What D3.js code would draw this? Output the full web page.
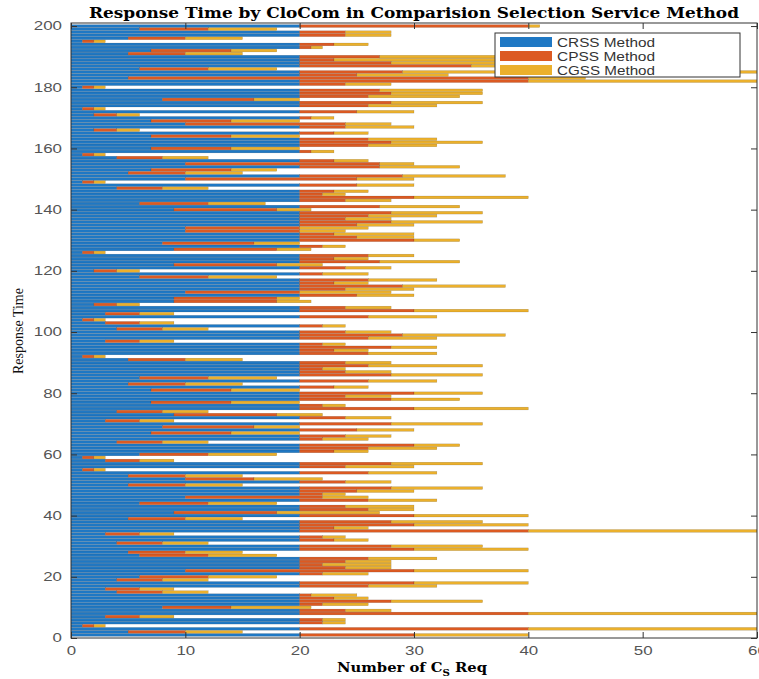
<!DOCTYPE html>
<html><head><meta charset="utf-8">
<script src="https://cdn.jsdelivr.net/npm/d3@7"></script>
<style>body{margin:0;background:#fff}svg{display:block}</style>
</head><body>
<svg id="c" width="759" height="679"></svg>
<script>
// Row index 1..200 (Response Time), stacked values per method
const crss = [20,5,20,1,20,20,3,20,20,8, 20,20,20,20,4,3,20,20,4,6, 20,10,20,20,20,20,6,5,20,20, 4,20,20,3,20,20,20,20,5,20,
  9,20,20,6,20,10,20,20,20,5, 20,10,5,20,1,20,20,3,1,6, 20,20,20,4,20,20,7,20,8,20, 3,20,9,4,20,20,7,20,20,20,
  7,20,5,20,6,20,20,20,20,20, 5,1,20,20,20,20,3,20,20,20, 4,20,3,1,20,3,20,20,2,9, 9,20,10,20,20,20,20,6,20,2,
  20,9,20,20,20,1,9,20,8,20, 20,20,10,10,20,20,20,20,20,9, 20,6,20,20,20,20,4,20,1,10, 20,5,7,20,10,20,4,1,20,7,
  20,20,20,7,20,2,20,10,7,20, 2,20,1,20,20,8,20,20,20,1, 20,20,5,20,20,6,20,20,20,20, 5,7,20,20,1,5,20,20,6,20];
const cpss = [10,5,20,1,2,2,3,20,4,6, 2,8,3,1,4,3,6,10,4,6, 2,20,4,2,4,6,6,5,10,8, 4,3,2,3,20,3,10,8,5,10,
  9,6,4,6,6,12,2,5,8,5, 4,6,5,6,1,4,8,3,1,6, 3,6,10,4,2,4,7,5,8,8, 3,4,9,4,10,2,7,8,4,10,
  7,3,5,6,6,8,4,2,6,4, 5,1,6,3,8,2,3,6,9,4, 4,2,3,1,6,3,10,4,2,9, 9,5,10,4,9,3,6,6,2,2,
  4,9,7,3,6,1,9,2,8,10, 5,3,10,10,5,8,4,6,8,9, 7,6,4,10,2,3,4,5,1,15, 9,5,7,7,17,3,4,1,1,7,
  6,8,6,7,3,2,4,14,7,1, 2,5,1,6,8,8,6,8,7,1, 4,20,35,5,9,6,15,8,3,7, 5,7,1,3,1,5,4,4,6,20];
const cgss = [10,5,20,1,2,2,3,20,4,7, 4,8,3,4,4,3,6,10,4,6, 4,10,4,6,4,6,6,5,10,8, 4,3,2,3,20,3,10,8,5,10,
  9,4,6,6,6,4,2,5,8,5, 4,6,5,6,1,6,8,3,1,6, 3,6,4,4,4,4,6,5,4,8, 3,4,4,4,10,2,6,6,4,6,
  6,3,5,6,6,8,4,2,10,4, 5,1,6,3,4,2,3,6,9,4, 4,2,3,1,6,3,10,4,2,3, 2,5,8,6,9,3,6,6,4,2,
  4,4,7,3,4,1,3,2,4,4, 5,7,4,6,5,8,4,6,8,3, 7,5,4,10,2,3,4,5,1,5, 9,5,4,7,3,3,4,1,2,6,
  6,8,6,6,3,2,6,4,6,2, 2,5,1,6,8,4,8,8,9,1, 4,25,5,8,35,6,4,12,17,13, 5,4,1,3,1,5,4,4,6,1];
const seriesNames = ["CRSS Method", "CPSS Method", "CGSS Method"];
const seriesColors = ["#1f78c4", "#dc5a22", "#ebb02c"];
const xTicks = [0,10,20,30,40,50,60];
const yTicks = [0,20,40,60,80,100,120,140,160,180,200];
const titleText = "Response Time by CloCom  in Comparision Selection Service Method";

const svg = d3.select("#c");
const L = 71, R = 757, T = 23, B = 638;
const x = d3.scaleLinear().domain([0,60]).range([L,R]);
const y = d3.scaleLinear().domain([0,201]).range([B,T]);

const rows = crss.map((v,i)=>({row:i+1, a:v, b:cpss[i], c:cgss[i]}));
const stack = d3.stack().keys(["a","b","c"])(rows);

svg.append("clipPath").attr("id","clip").append("rect")
  .attr("x",L).attr("y",T).attr("width",R-L).attr("height",B-T);

const g = svg.append("g").attr("clip-path","url(#clip)");
const bw = 0.9;
stack.forEach((s,k)=>{
  g.append("g").selectAll("rect").data(s).join("rect")
    .attr("x", d=>x(d[0]))
    .attr("width", d=>Math.max(0, x(d[1])-x(d[0])))
    .attr("y", d=>y(d.data.row + bw/2))
    .attr("height", d=>y(d.data.row - bw/2) - y(d.data.row + bw/2))
    .attr("fill", seriesColors[k])
    .attr("stroke", "rgba(0,0,0,0.28)")
    .attr("stroke-width", 0.4);
});

// Axes box
const axColor = "#333";
svg.append("rect").attr("x",L).attr("y",T).attr("width",R-L).attr("height",B-T)
  .attr("fill","none").attr("stroke",axColor).attr("stroke-width",1);

const tl = 6;
const xb = svg.append("g").attr("transform",`translate(0,${B})`)
  .call(d3.axisBottom(x).tickValues(xTicks).tickSizeInner(-tl).tickSizeOuter(0).tickPadding(8));
const xt = svg.append("g").attr("transform",`translate(0,${T})`)
  .call(d3.axisTop(x).tickValues(xTicks).tickSizeInner(-tl).tickSizeOuter(0).tickFormat(""));
const yl = svg.append("g").attr("transform",`translate(${L},0)`)
  .call(d3.axisLeft(y).tickValues(yTicks).tickSizeInner(-tl).tickSizeOuter(0).tickPadding(9));
const yr = svg.append("g").attr("transform",`translate(${R},0)`)
  .call(d3.axisRight(y).tickValues(yTicks).tickSizeInner(-tl).tickSizeOuter(0).tickFormat(""));
[xb,xt,yl,yr].forEach(a=>{
  a.select(".domain").remove();
  a.selectAll(".tick line").attr("stroke",axColor);
  a.selectAll("text").attr("font-family","'Liberation Sans', Arial, sans-serif")
    .attr("font-size",12).attr("fill","#555")
    .attr("lengthAdjust","spacingAndGlyphs")
    .attr("textLength", function(){ return this.textContent.length*9.4; });
});

// Title
svg.append("text").attr("x",(88+740)/2).attr("y",18).attr("text-anchor","middle")
  .attr("font-family","'DejaVu Serif', serif").attr("font-weight","bold").attr("font-size",14.5)
  .attr("textLength",650).attr("lengthAdjust","spacingAndGlyphs")
  .text(titleText);

// X label with subscript
const xl = svg.append("text").attr("x",412).attr("y",672).attr("text-anchor","middle")
  .attr("font-family","'DejaVu Serif', serif").attr("font-weight","bold").attr("font-size",13)
  .attr("textLength",150).attr("lengthAdjust","spacingAndGlyphs");
xl.append("tspan").text("Number of C");
xl.append("tspan").attr("dy",4).attr("font-size",9).text("S");
xl.append("tspan").attr("dy",-4).text(" Req");

// Y label
svg.append("text").attr("transform","translate(23,331) rotate(-90)").attr("text-anchor","middle")
  .attr("font-family","'Liberation Serif', 'Times New Roman', serif").attr("font-size",14)
  .attr("fill","#111").text("Response Time");

// Legend
const lg = svg.append("g");
lg.append("rect").attr("x",495).attr("y",33).attr("width",245).attr("height",44)
  .attr("fill","#fff").attr("stroke","#333").attr("stroke-width",1);
seriesNames.forEach((n,i)=>{
  const cy = 42 + i*14;
  lg.append("rect").attr("x",500).attr("y",cy-5).attr("width",52).attr("height",10).attr("fill",seriesColors[i]);
  lg.append("text").attr("x",557).attr("y",cy+4.5)
    .attr("font-family","'Liberation Sans', Arial, sans-serif").attr("font-size",12.5).attr("fill","#333")
    .attr("textLength",98).attr("lengthAdjust","spacingAndGlyphs").text(n);
});
</script>
</body></html>
